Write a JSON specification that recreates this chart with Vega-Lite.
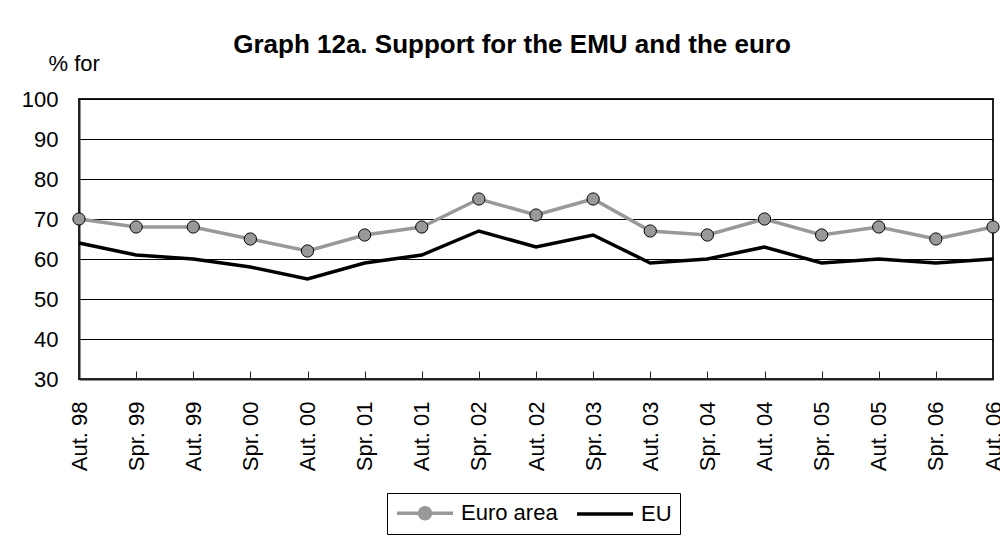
{
  "$schema": "https://vega.github.io/schema/vega-lite/v6.json",
  "width": 914,
  "height": 280,
  "autosize": {"type": "none"},
  "padding": {"left": 79, "top": 99, "right": 7, "bottom": 158},
  "background": "white",
  "title": {
    "text": "Graph 12a. Support for the EMU and the euro",
    "font": "Liberation Sans",
    "fontSize": 26,
    "fontWeight": "bold",
    "color": "black",
    "anchor": "middle",
    "dx": -24,
    "dy": 42,
    "baseline": "alphabetic",
    "offset": 15
  },
  "config": {
    "view": {"stroke": "#222222", "strokeWidth": 2},
    "axis": {
      "labelFont": "Liberation Sans",
      "titleFont": "Liberation Sans",
      "labelColor": "black",
      "titleColor": "black",
      "domainColor": "#222222",
      "domainWidth": 2
    }
  },
  "data": {
    "values": [
      {"period": "Aut. 98", "series": "Euro area", "value": 70},
      {"period": "Spr. 99", "series": "Euro area", "value": 68},
      {"period": "Aut. 99", "series": "Euro area", "value": 68},
      {"period": "Spr. 00", "series": "Euro area", "value": 65},
      {"period": "Aut. 00", "series": "Euro area", "value": 62},
      {"period": "Spr. 01", "series": "Euro area", "value": 66},
      {"period": "Aut. 01", "series": "Euro area", "value": 68},
      {"period": "Spr. 02", "series": "Euro area", "value": 75},
      {"period": "Aut. 02", "series": "Euro area", "value": 71},
      {"period": "Spr. 03", "series": "Euro area", "value": 75},
      {"period": "Aut. 03", "series": "Euro area", "value": 67},
      {"period": "Spr. 04", "series": "Euro area", "value": 66},
      {"period": "Aut. 04", "series": "Euro area", "value": 70},
      {"period": "Spr. 05", "series": "Euro area", "value": 66},
      {"period": "Aut. 05", "series": "Euro area", "value": 68},
      {"period": "Spr. 06", "series": "Euro area", "value": 65},
      {"period": "Aut. 06", "series": "Euro area", "value": 68},
      {"period": "Aut. 98", "series": "EU", "value": 64},
      {"period": "Spr. 99", "series": "EU", "value": 61},
      {"period": "Aut. 99", "series": "EU", "value": 60},
      {"period": "Spr. 00", "series": "EU", "value": 58},
      {"period": "Aut. 00", "series": "EU", "value": 55},
      {"period": "Spr. 01", "series": "EU", "value": 59},
      {"period": "Aut. 01", "series": "EU", "value": 61},
      {"period": "Spr. 02", "series": "EU", "value": 67},
      {"period": "Aut. 02", "series": "EU", "value": 63},
      {"period": "Spr. 03", "series": "EU", "value": 66},
      {"period": "Aut. 03", "series": "EU", "value": 59},
      {"period": "Spr. 04", "series": "EU", "value": 60},
      {"period": "Aut. 04", "series": "EU", "value": 63},
      {"period": "Spr. 05", "series": "EU", "value": 59},
      {"period": "Aut. 05", "series": "EU", "value": 60},
      {"period": "Spr. 06", "series": "EU", "value": 59},
      {"period": "Aut. 06", "series": "EU", "value": 60}
    ]
  },
  "encoding": {
    "x": {
      "field": "period",
      "type": "ordinal",
      "sort": null,
      "scale": {"type": "point", "padding": 0},
      "axis": {
        "title": null,
        "labelAngle": -90,
        "labelFontSize": 22,
        "labelPadding": 30,
        "tickSize": -8,
        "tickColor": "#222222",
        "tickWidth": 1,
        "grid": false
      }
    },
    "y": {
      "field": "value",
      "type": "quantitative",
      "scale": {"domain": [30, 100], "nice": false, "zero": false},
      "axis": {
        "title": "% for",
        "titleAngle": 0,
        "titleAlign": "left",
        "titleBaseline": "alphabetic",
        "titleFontWeight": "normal",
        "titleFontSize": 22,
        "titleX": -31,
        "titleY": -29,
        "values": [30, 40, 50, 60, 70, 80, 90, 100],
        "labelFontSize": 22,
        "labelPadding": 21,
        "ticks": false,
        "grid": true,
        "gridColor": "black",
        "gridWidth": 1,
        "gridOpacity": 1
      }
    }
  },
  "layer": [
    {
      "mark": {"type": "line", "strokeWidth": 3.5},
      "encoding": {
        "color": {
          "field": "series",
          "type": "nominal",
          "scale": {"domain": ["Euro area", "EU"], "range": ["#999999", "#000000"]},
          "legend": {
            "title": null,
            "orient": "none",
            "legendX": 308,
            "legendY": 394,
            "direction": "horizontal",
            "strokeColor": "black",
            "fillColor": "white",
            "padding": 8,
            "labelFont": "Liberation Sans",
            "labelFontSize": 22,
            "labelColor": "black",
            "labelOffset": 42,
            "columnPadding": 12,
            "symbolSize": 400,
            "symbolStrokeWidth": 3.5,
            "encode": {
              "symbols": {
                "update": {
                  "shape": {"signal": "datum.value === 'EU' ? 'M-1,0L4.6,0' : 'M-1,0L1.25,0M2.35,0L4.6,0M1.25,0A0.55,0.55 0 1,0 2.35,0A0.55,0.55 0 1,0 1.25,0'"},
                  "fill": {"signal": "datum.value === 'EU' ? 'transparent' : '#999999'"}
                }
              }
            }
          }
        }
      }
    },
    {
      "transform": [{"filter": "datum.series === 'Euro area'"}],
      "mark": {"type": "point", "filled": true, "fill": "#999999", "stroke": "black", "strokeWidth": 1, "size": 150, "opacity": 1}
    }
  ]
}
